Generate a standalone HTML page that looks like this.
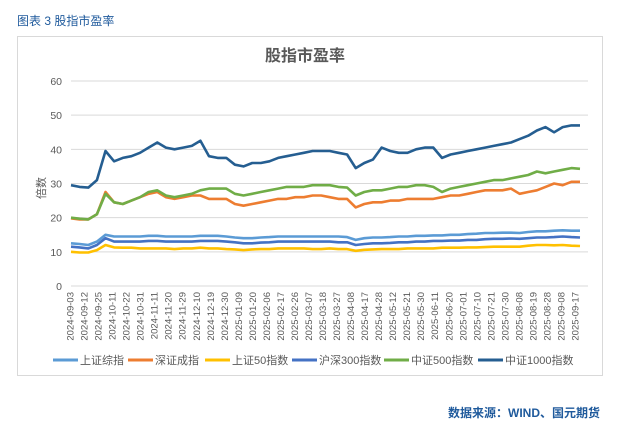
<!DOCTYPE html>
<html><head><meta charset="utf-8"><style>
body{margin:0;background:#fff;width:627px;height:432px;overflow:hidden;font-family:"Liberation Sans","Noto Sans CJK SC",sans-serif}
#hdr{position:absolute;left:17px;top:12px;font-size:12px;color:#1f5a9c}
#src{position:absolute;right:27px;top:404px;font-size:12px;color:#1f5a9c;font-weight:bold}
#box{position:absolute;left:17px;top:36px;width:586px;height:340px;border:1px solid #d9d9d9;box-sizing:border-box}
svg{position:absolute;left:0;top:0}
</style></head><body>
<div id="hdr">图表 3 股指市盈率</div>
<div id="box"></div>
<div id="src">数据来源：WIND、国元期货</div>
<svg id="chart" width="627" height="432"></svg>
<script>
const dates=["2024-09-03","2024-09-12","2024-09-25","2024-10-11","2024-10-22","2024-10-31","2024-11-11","2024-11-20","2024-11-29","2024-12-10","2024-12-19","2024-12-30","2025-01-09","2025-01-20","2025-02-06","2025-02-17","2025-02-26","2025-03-07","2025-03-18","2025-03-27","2025-04-08","2025-04-17","2025-04-28","2025-05-12","2025-05-21","2025-05-30","2025-06-11","2025-06-20","2025-07-01","2025-07-10","2025-07-21","2025-07-30","2025-08-08","2025-08-19","2025-08-28","2025-09-08","2025-09-17"];
const yTicks=[0,10,20,30,40,50,60];
const names=["上证综指","深证成指","上证50指数","沪深300指数","中证500指数","中证1000指数"];
const colors=["#5b9bd5","#ed7d31","#ffc000","#4472c4","#70ad47","#255e91"];
const sseComp=[12.5,12.3,12,13,15,14.5,14.5,14.5,14.5,14.7,14.7,14.5,14.5,14.5,14.5,14.7,14.7,14.7,14.5,14.2,14,14,14.2,14.3,14.5,14.5,14.5,14.5,14.5,14.5,14.5,14.5,14.3,13.5,14,14.2,14.2,14.3,14.5,14.5,14.7,14.7,14.8,14.8,15,15,15.2,15.3,15.5,15.5,15.6,15.6,15.5,15.8,16,16,16.2,16.3,16.2,16.2];
const szComp=[19.8,19.5,19.5,21,27.5,24.5,24,25,26,27,27.5,26,25.5,26,26.5,26.5,25.5,25.5,25.5,24,23.5,24,24.5,25,25.5,25.5,26,26,26.5,26.5,26,25.5,25.5,23,24,24.5,24.5,25,25,25.5,25.5,25.5,25.5,26,26.5,26.5,27,27.5,28,28,28,28.5,27,27.5,28,29,30,29.5,30.5,30.5];
const sse50=[10,9.8,9.8,10.5,12,11.3,11.2,11.2,11,11,11,11,10.8,11,11,11.2,11,11,10.8,10.7,10.5,10.7,10.8,10.8,11,11,11,11,10.8,10.8,11,10.8,10.8,10.3,10.6,10.7,10.8,10.8,10.8,11,11,11,11,11.2,11.2,11.2,11.3,11.3,11.4,11.5,11.5,11.5,11.5,11.8,12,12,11.9,12,11.8,11.7];
const hs300=[11.5,11.3,11,12,14,13,13,13,13,13.2,13.2,13,13,13,13,13.2,13.2,13.2,13,12.8,12.5,12.5,12.7,12.8,13,13,13,13,13,13,13,12.8,12.8,12,12.3,12.5,12.5,12.6,12.8,12.8,13,13,13.2,13.2,13.3,13.3,13.5,13.5,13.7,13.8,13.8,13.9,13.8,14,14.2,14.2,14.3,14.5,14.3,14.2];
const csi500=[20,19.7,19.5,21,27,24.5,24,25,26,27.5,28,26.5,26,26.5,27,28,28.5,28.5,28.5,27,26.5,27,27.5,28,28.5,29,29,29,29.5,29.5,29.5,29,28.8,26.5,27.5,28,28,28.5,29,29,29.5,29.5,29,27.5,28.5,29,29.5,30,30.5,31,31,31.5,32,32.5,33.5,33,33.5,34,34.5,34.3];
const csi1000=[29.5,29,28.8,31,39.5,36.5,37.5,38,39,40.5,42,40.5,40,40.5,41,42.5,38,37.5,37.5,35.5,35,36,36,36.5,37.5,38,38.5,39,39.5,39.5,39.5,39,38.5,34.5,36,37,40.5,39.5,39,39,40,40.5,40.5,37.5,38.5,39,39.5,40,40.5,41,41.5,42,43,44,45.5,46.5,45,46.5,47,47];
const series=[sseComp,szComp,sse50,hs300,csi500,csi1000];
const X0=71,X1=580,Y0=286,Y60=81;
const y=v=>Y0-(v/60)*(Y0-Y60);
const xi=(i,n)=>X0+i*(X1-X0)/(n-1);
const svg=document.getElementById('chart');const NS="http://www.w3.org/2000/svg";
function mk(t,a,txt){const e=document.createElementNS(NS,t);for(const k in a)e.setAttribute(k,a[k]);if(txt!=null)e.textContent=txt;svg.appendChild(e);return e;}
let e=mk('text',{x:305,y:61,'text-anchor':'middle','font-size':16,'font-weight':'bold',fill:'#595959'},'股指市盈率');


e=mk('text',{x:0,y:0,transform:'translate(45,188) rotate(-90)','text-anchor':'middle','font-size':11,fill:'#595959'},'倍数');


yTicks.forEach(t=>{
 e=mk('line',{x1:X0,x2:X1+8,y1:y(t),y2:y(t),stroke:'#d9d9d9','stroke-width':1});
 
 
 e=mk('text',{x:62,y:y(t)+4,'text-anchor':'end','font-size':10.5,fill:'#595959'},t);
 
 
});
dates.forEach((d,i)=>{
 const xx=70+i*(575-70)/(dates.length-1);
 e=mk('text',{x:0,y:0,transform:`translate(${xx+3.5},${292}) rotate(-90)`,'text-anchor':'end','font-size':9.5,fill:'#595959'},d);
 
 
});
series.forEach((s,k)=>{
 const pts=s.map((v,i)=>xi(i,s.length).toFixed(1)+','+y(v).toFixed(1)).join(' ');
 e=mk('polyline',{points:pts,fill:'none',stroke:colors[k],'stroke-width':2.6,'stroke-linejoin':'round'});
 
 
});
const lx=[53,128,205,292,384,478];
names.forEach((n,k)=>{
 e=mk('line',{x1:lx[k],x2:lx[k]+25,y1:360,y2:360,stroke:colors[k],'stroke-width':3});
 
 
 e=mk('text',{x:lx[k]+27,y:364,'font-size':11,fill:'#595959'},n);
 
 
});
</script>
</body></html>
